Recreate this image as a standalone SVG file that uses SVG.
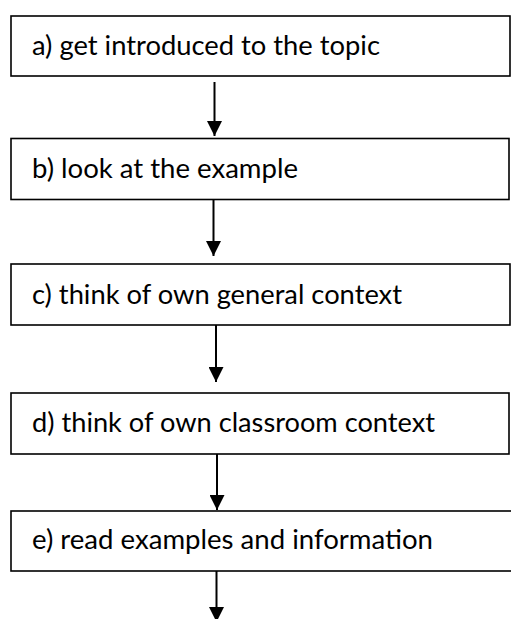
<svg xmlns="http://www.w3.org/2000/svg" width="511" height="619" viewBox="0 0 511 619">
<defs>
<style>
.box{fill:#fff;stroke:#000;stroke-width:1.6}
.lbl{font-family:"Lato","Open Sans","Liberation Sans",sans-serif;font-size:26px;fill:#000}
.conn{stroke:#000;stroke-width:2;fill:none}
</style>
<marker id="ah" markerUnits="userSpaceOnUse" markerWidth="16" markerHeight="15" refX="16" refY="8" orient="auto" viewBox="0 0 16 16">
<path d="M0,0 L16,8 L0,16 Z" fill="#000"/>
</marker>
</defs>
<rect width="511" height="619" fill="#fff"/>
<g id="node-a"><rect class="box" x="11" y="16" width="499" height="60"/><text class="lbl" x="32" y="55" textLength="348" lengthAdjust="spacingAndGlyphs">a) get introduced to the topic</text></g>
<g id="node-b"><rect class="box" x="11" y="138.5" width="498" height="61"/><text class="lbl" x="32" y="178" textLength="266" lengthAdjust="spacingAndGlyphs">b) look at the example</text></g>
<g id="node-c"><rect class="box" x="11" y="264" width="499" height="61"/><text class="lbl" x="32" y="304" textLength="370" lengthAdjust="spacingAndGlyphs">c) think of own general context</text></g>
<g id="node-d"><rect class="box" x="11" y="393" width="498" height="61"/><text class="lbl" x="32" y="432" textLength="403" lengthAdjust="spacingAndGlyphs">d) think of own classroom context</text></g>
<g id="node-e"><rect class="box" x="11" y="511" width="505" height="60"/><text class="lbl" x="32" y="548.5" textLength="401" lengthAdjust="spacingAndGlyphs">e) read examples and information</text></g>
<g id="connectors">
<line class="conn" x1="214.5" y1="82" x2="214.5" y2="136" marker-end="url(#ah)"/>
<line class="conn" x1="213.5" y1="200" x2="213.5" y2="256" marker-end="url(#ah)"/>
<line class="conn" x1="216" y1="325" x2="216" y2="382" marker-end="url(#ah)"/>
<line class="conn" x1="217" y1="454" x2="217" y2="510" marker-end="url(#ah)"/>
<line class="conn" x1="216.5" y1="571" x2="216.5" y2="622" marker-end="url(#ah)"/>
</g>
</svg>
